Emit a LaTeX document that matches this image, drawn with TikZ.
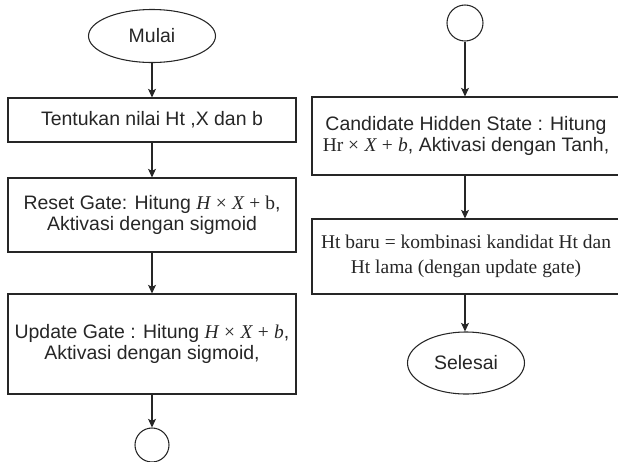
\documentclass[tikz,border=0pt]{standalone}
\usepackage{fontspec}
\setmainfont{Liberation Sans}
\newfontfamily\serifface{Liberation Serif}
\usetikzlibrary{shapes.geometric,arrows.meta}
\definecolor{ink}{HTML}{262626}
% serif pieces for the formulas
\newcommand{\fv}[1]{{\serifface\itshape #1}}
\newcommand{\fr}[1]{{\serifface #1}}
\begin{document}
\begin{tikzpicture}[x=0.75pt,y=-0.75pt,
  every node/.style={text=ink, font=\fontsize{14.6}{16}\selectfont},
  procbox/.style={draw=ink, line width=0.8pt, rectangle, inner sep=0pt, align=center},
  term/.style={draw=ink, line width=0.8pt, ellipse, inner sep=0pt},
  conn/.style={draw=ink, line width=0.8pt, circle, inner sep=0pt},
  flow/.style={draw=ink, line width=0.8pt, -{Stealth[length=6.5pt,width=6pt,inset=1.5pt]}}]
\useasboundingbox (0,0) rectangle (618,461);
\clip (0,0) rectangle (618,461);

% left column
\node[term, minimum width=95.25pt, minimum height=39.75pt] (start) at (152,36) {Mulai};
\node[procbox, minimum width=216pt, minimum height=33pt] (init) at (152,120)
  {Tentukan nilai Ht ,X dan b};
\node[procbox, minimum width=216pt, minimum height=55.5pt] (reset) at (152,215)
  {Reset Gate: Hitung \fv{H} \fr{×} \fv{X} \fr{+ b},\\Aktivasi dengan sigmoid};
\node[procbox, minimum width=216pt, minimum height=75pt] (update) at (152,344)
  {Update Gate : Hitung \fv{H} \fr{×} \fv{X} \fr{+} \fv{b},\\Aktivasi dengan sigmoid,};
\node[conn, minimum size=25.5pt] (offA) at (152,445) {};

% right column
\node[conn, minimum size=27pt] (offB) at (465,23) {};
\node[procbox, minimum width=231pt, minimum height=58.5pt] (cand) at (466,136)
  {Candidate Hidden State : Hitung\\\fr{Hr ×} \fv{X} \fr{+} \fv{b}, Aktivasi dengan Tanh,};
\node[procbox, minimum width=231pt, minimum height=56.25pt, font=\serifface\fontsize{14.6}{19}\selectfont] (merge) at (466,256.5)
  {Ht baru = kombinasi kandidat Ht dan\\Ht lama (dengan update gate)};
\node[term, minimum width=87.75pt, minimum height=46.5pt] (stop) at (466,363) {Selesai};

% connectors
\draw[flow] (start) -- (init);
\draw[flow] (init) -- (reset);
\draw[flow] (reset) -- (update);
\draw[flow] (update) -- (offA);
\draw[flow] (offB.south) -- (offB.south |- cand.north);
\draw[flow] (cand.south -| offB.south) -- (offB.south |- merge.north);
\draw[flow] (merge.south -| offB.south) -- (offB.south |- stop.north);
\end{tikzpicture}
\end{document}
